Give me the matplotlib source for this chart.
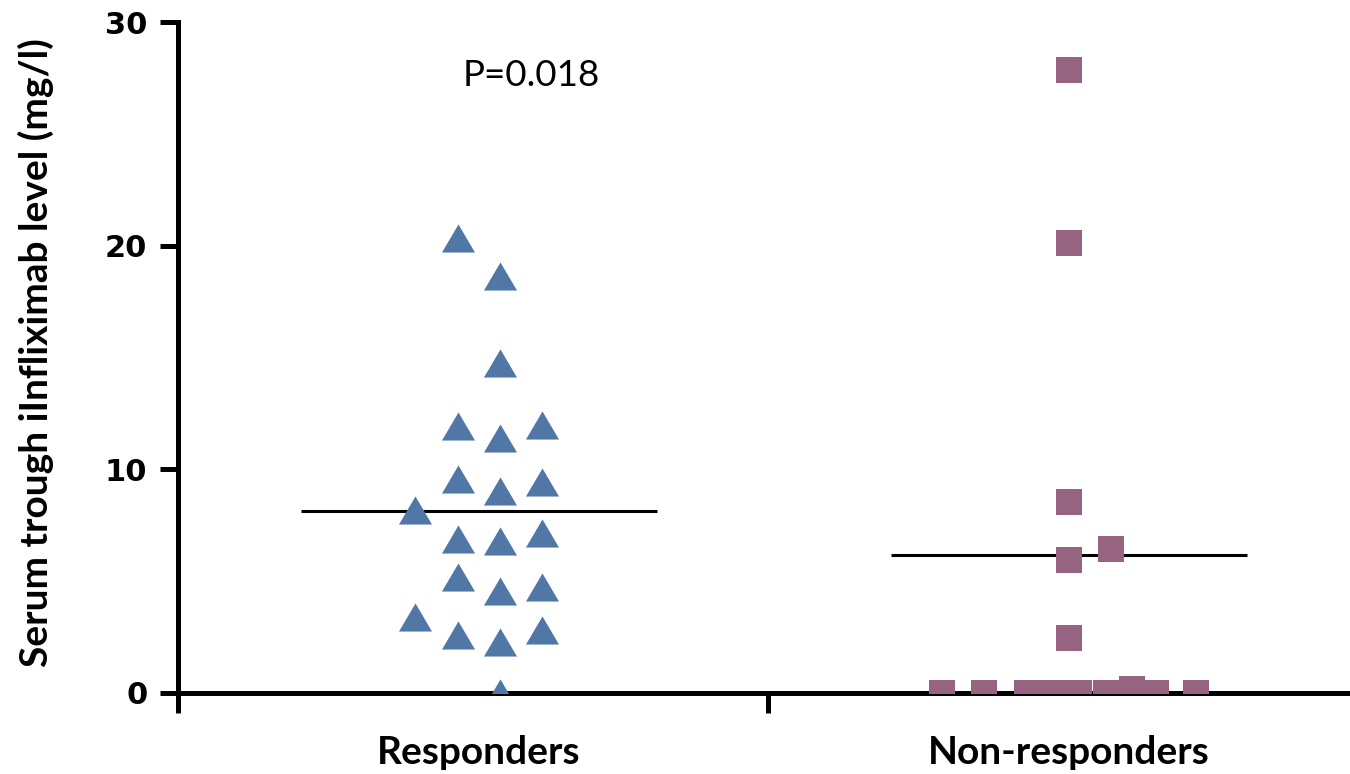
import matplotlib
matplotlib.use("Agg")
import matplotlib.pyplot as plt
from matplotlib import font_manager as fm

# ---------------- data ----------------
categories = ["Responders", "Non-responders"]

responders_values = [8.18, 3.41,
                     20.33, 11.92, 9.57, 6.88, 5.20, 2.58,
                     18.66, 14.74, 11.39, 9.03, 6.79, 4.57, 2.29, 0.0,
                     11.98, 9.45, 7.14, 4.72, 2.82]
responders_slots = [-1.5, -1.5,
                    -0.5, -0.5, -0.5, -0.5, -0.5, -0.5,
                    0.5, 0.5, 0.5, 0.5, 0.5, 0.5, 0.5, 0.5,
                    1.5, 1.5, 1.5, 1.5, 1.5]

nonresponders_values = [27.87, 20.14, 8.52, 5.95, 2.44, 6.42,
                        0.0, 0.0, 0.0, 0.0, 0.0, 0.0, 0.16, 0.0, 0.0]
nonresponders_slots = [0, 0, 0, 0, 0, 1,
                       -3.0, -2.0, -1.0, -0.38, 0.25, 0.87, 1.5, 2.05, 3.0]

group_means = [8.13, 6.16]
p_label = "P=0.018"
y_ticks = [0, 10, 20, 30]
y_label = "Serum trough iInfliximab level (mg/l)"

# ---------------- style ----------------
names = {f.name for f in fm.fontManager.ttflist}
txt_font = "Lato" if "Lato" in names else "DejaVu Sans"

blue = "#5077A6"
purple = "#966381"
group_centers = [0.51, 1.51]
slot_w = 0.0717
half_line = 0.302

fig = plt.figure(figsize=(13.5, 7.74), dpi=100)
ax = fig.add_axes([178 / 1350, 81 / 774, 1180 / 1350, 671 / 774])
ax.set_xlim(0, 2)
ax.set_ylim(0, 30)

tri = [(-1, -0.85), (1, -0.85), (0, 0.85)]
rx = [group_centers[0] + s * slot_w for s in responders_slots]
nx = [group_centers[1] + s * slot_w for s in nonresponders_slots]
ax.plot(rx, responders_values, linestyle="none", marker=tri, markersize=23.8,
        color=blue, markeredgewidth=0, zorder=3)
ax.plot(nx, nonresponders_values, linestyle="none", marker="s", markersize=19.4,
        color=purple, markeredgewidth=0, zorder=3)

for c, m in zip(group_centers, group_means):
    ax.hlines(m, c - half_line, c + half_line, color="black", linewidth=2.2, zorder=1)

ax.text(0.598, 27.6, p_label, ha="center", va="center", fontsize=26.5,
        family=txt_font, color="black")

# spines
for s in ["top", "right"]:
    ax.spines[s].set_visible(False)
for s in ["left", "bottom"]:
    ax.spines[s].set_linewidth(3.6)
    ax.spines[s].set_color("black")

ax.set_yticks(y_ticks)
ax.set_yticklabels([str(t) for t in y_ticks], fontsize=22, fontweight="heavy",
                   family="DejaVu Sans")
ax.tick_params(axis="y", which="major", direction="out", length=13, width=3.6, pad=9)

ax.set_xticks([0, 1, 2])
ax.set_xticklabels(["", "", ""])
ax.tick_params(axis="x", which="major", direction="out", length=14.4, width=3.6)
ax.set_xticks(group_centers, minor=True)
ax.set_xticklabels(categories, minor=True, fontsize=28, fontweight="bold", family=txt_font)
ax.tick_params(axis="x", which="minor", length=0, pad=30)

ax.set_ylabel(y_label, fontsize=28, fontweight="bold", family=txt_font,
              ha="center", va="center")
ax.yaxis.set_label_coords(-0.1203, 0.508)

fig.savefig("out.png", dpi=100)
